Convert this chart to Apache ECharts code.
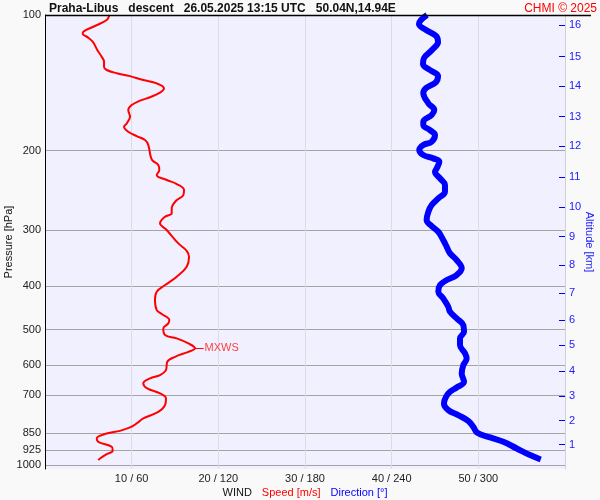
<!DOCTYPE html>
<html>
<head>
<meta charset="utf-8">
<script src="https://cdn.jsdelivr.net/npm/echarts@6/dist/echarts.min.js"></script>
<style>
html,body{margin:0;padding:0;background:#f9f9f9;}
#chart{width:600px;height:500px;}
</style>
</head>
<body>
<div id="chart"></div>
<script>
// ---- data ----
const pressureTicks = [100, 200, 300, 400, 500, 600, 700, 850, 925, 1000];
const altitudeKm = [1, 2, 3, 4, 5, 6, 7, 8, 9, 10, 11, 12, 13, 14, 15, 16];
const altitudePressure = [900.3, 796.4, 702.4, 618.1, 541.2, 476.1, 414.7, 359.4, 310.7, 267.1, 229.1, 195.5, 168.1, 143.8, 123.7, 105.25];
const speedTicks = [10, 20, 30, 40, 50];

const speedPressure = [100, 102.6, 106.2, 108.9, 110.2, 111.7, 114.6, 119.6, 123.8, 127.0, 130.3, 132.5, 134.7, 136.7, 139.5, 141.9, 145.5, 148.8, 152.3, 155.0, 158.5, 162.6, 168.3, 174.1, 177.1, 181.7, 185.8, 189.6, 194.5, 206.5, 210.8, 215.4, 221.0, 226.7, 232.6, 237.4, 244.8, 251.2, 258.6, 268.9, 275.8, 280.6, 290.3, 300.4, 321.7, 334.1, 344.5, 362.5, 381.5, 398.1, 412.0, 429.9, 452.4, 461.7, 476.1, 484.3, 496.9, 514.2, 523.0, 536.6, 550.0, 560.1, 574.6, 589.5, 615.0, 631.0, 641.7, 658.3, 675.4, 693.0, 711.0, 735.8, 761.5, 787.6, 808.0, 824.7, 839.2, 850.4, 872.4, 887.7, 910.7, 929.5, 945.4, 966.5, 974.8];
const speedValues = [7.42, 7.12, 5.57, 4.42, 4.35, 4.81, 5.50, 6.03, 6.54, 6.81, 6.81, 7.12, 8.27, 9.81, 11.34, 12.89, 13.73, 13.27, 12.12, 10.96, 10.0, 9.61, 9.81, 9.43, 9.12, 9.61, 10.58, 11.54, 11.92, 12.20, 12.43, 13.07, 13.19, 12.89, 14.04, 15.2, 16.04, 15.96, 15.12, 14.62, 14.62, 13.85, 13.27, 14.04, 15.38, 16.35, 16.62, 16.35, 15.2, 13.85, 12.89, 12.69, 12.89, 13.47, 14.34, 14.23, 13.65, 13.85, 15.2, 16.54, 17.3, 16.54, 15.0, 14.11, 13.96, 13.27, 12.12, 11.34, 11.8, 13.27, 13.96, 13.85, 13.07, 11.34, 10.58, 9.81, 8.65, 7.12, 5.97, 6.15, 7.7, 7.81, 7.12, 6.35, 6.15];

const dirPressure = [100, 102.6, 104.7, 108.0, 111.3, 114.8, 119.6, 124.6, 128.5, 132.5, 136.7, 140.9, 145.3, 149.1, 157.1, 162.6, 166.8, 172.6, 175.6, 180.2, 184.8, 191.2, 194.5, 199.5, 204.7, 208.2, 211.8, 219.1, 222.9, 230.7, 238.6, 247.0, 255.5, 264.4, 273.6, 285.4, 294.3, 303.1, 316.2, 327.3, 338.5, 350.3, 365.5, 378.2, 388.0, 398.1, 412.0, 426.2, 444.8, 456.4, 472.1, 488.6, 505.6, 523.0, 541.2, 564.8, 579.4, 599.6, 625.6, 653.1, 672.1, 687.4, 705.1, 729.4, 754.8, 774.4, 797.4, 822.3, 847.6, 867.8, 887.7, 918.2, 949.9, 971.3];
const dirValues = [264.5, 260.3, 258.9, 263.8, 270.7, 272.1, 267.9, 262.4, 261.7, 266.5, 272.1, 270.7, 263.8, 261.9, 265.4, 269.5, 267.7, 261.9, 261.9, 266.5, 270.0, 267.7, 261.9, 259.1, 261.9, 268.8, 273.0, 271.2, 270.0, 273.5, 276.9, 276.9, 272.3, 267.7, 265.4, 264.2, 267.7, 272.3, 275.7, 278.1, 280.4, 285.0, 288.5, 285.0, 278.1, 273.5, 272.3, 275.7, 279.2, 280.4, 285.0, 289.6, 290.1, 287.3, 287.3, 290.8, 291.9, 289.6, 288.5, 290.1, 285.0, 280.4, 277.6, 276.2, 279.2, 286.1, 293.0, 296.5, 299.3, 308.1, 317.3, 326.6, 335.8, 343.2];

const mxwsPressure = 550;
const mxwsSpeed = 17.3;

const titleText = 'Praha-Libus   descent   26.05.2025 13:15 UTC   50.04N,14.94E';
const copyrightText = 'CHMI \u00a9 2025';

// ---- chart ----
const FONT = '"Liberation Sans", Arial, sans-serif';
const chart = echarts.init(document.getElementById('chart'));
const speedData = speedValues.map((s, i) => [s, speedPressure[i]]);
const dirData = dirValues.map((d, i) => [d, dirPressure[i]]);

chart.setOption({
  backgroundColor: '#f9f9f9',
  animation: false,
  textStyle: { fontFamily: FONT },
  title: [
    { text: titleText, left: 49, top: 3, padding: 0, textStyle: { fontSize: 12, fontWeight: 'bold', color: '#111', fontFamily: FONT } },
    { text: copyrightText, right: 3, top: 3, padding: 0, textStyle: { fontSize: 12, fontWeight: 'normal', color: '#ff0000', fontFamily: FONT } }
  ],
  graphic: [
    { type: 'line', shape: { x1: 45, y1: 15.5, x2: 591, y2: 15.5 }, style: { stroke: '#000', lineWidth: 1.5 }, z: 100 }
  ],
  grid: { left: 45, right: 35, top: 15, bottom: 31, show: true, backgroundColor: '#f0f0ff', borderWidth: 0, containLabel: false, outerBoundsMode: 'none' },
  xAxis: [
    {
      type: 'value', min: 0, max: 60, interval: 10, position: 'bottom',
      axisLine: { show: false }, axisTick: { show: false },
      axisLabel: {
        margin: 4, fontSize: 11, color: '#222', fontFamily: FONT,
        formatter: v => speedTicks.indexOf(v) >= 0 ? (v + ' / ' + v * 6) : ''
      },
      splitLine: { show: true, lineStyle: { color: '#dcdce6', width: 1 } },
      name: '{a|WIND}   {b|Speed [m/s]}   {c|Direction [\u00b0]}',
      nameLocation: 'middle', nameGap: 18, nameMoveOverlap: false,
      nameTextStyle: {
        rich: {
          a: { color: '#111', fontSize: 11, fontFamily: FONT },
          b: { color: '#ff0000', fontSize: 11, fontFamily: FONT },
          c: { color: '#0000ff', fontSize: 11, fontFamily: FONT }
        }
      }
    },
    { type: 'value', min: 0, max: 360, show: false }
  ],
  yAxis: [
    {
      type: 'log', logBase: 10, min: 100, max: 1020, inverse: true, position: 'left',
      axisLine: { show: true, lineStyle: { color: '#000', width: 1 } },
      axisTick: { show: false, customValues: pressureTicks },
      axisLabel: { customValues: pressureTicks, margin: 4, fontSize: 11, color: '#222', fontFamily: FONT, formatter: v => String(Math.round(v)) },
      splitLine: { show: true, lineStyle: { color: '#a4a4a4', width: 1 } },
      name: 'Pressure [hPa]', nameLocation: 'middle', nameGap: 31, nameMoveOverlap: false,
      nameTextStyle: { fontSize: 11, color: '#111', fontFamily: FONT }
    },
    {
      type: 'log', logBase: 10, min: 100, max: 1020, inverse: true, position: 'right',
      axisLine: { show: true, onZero: false, lineStyle: { color: '#d0d0d8', width: 1 } },
      axisTick: { show: true, inside: true, length: 6, customValues: altitudePressure, lineStyle: { color: '#0000ff', width: 1 } },
      axisLabel: {
        customValues: altitudePressure, margin: 4, fontSize: 11, color: '#2020ff', fontFamily: FONT,
        formatter: v => {
          let best = 0, bd = 1e9;
          altitudePressure.forEach((p, i) => { const d = Math.abs(p - v); if (d < bd) { bd = d; best = i; } });
          return String(altitudeKm[best]);
        }
      },
      splitLine: { show: false },
      name: 'Altitude [km]', nameLocation: 'middle', nameGap: 19, nameRotate: -90, nameMoveOverlap: false,
      nameTextStyle: { fontSize: 11, color: '#2020ff', fontFamily: FONT }
    }
  ],
  series: [
    {
      name: 'Direction', type: 'line', xAxisIndex: 1, yAxisIndex: 0,
      data: dirData, showSymbol: false, symbol: 'none', smooth: 0.4,
      lineStyle: { color: '#0000ff', width: 6 }, z: 3
    },
    {
      name: 'Speed', type: 'line', xAxisIndex: 0, yAxisIndex: 0,
      data: speedData, showSymbol: false, symbol: 'none', smooth: 0.4,
      lineStyle: { color: '#ff0000', width: 2 }, z: 4,
      markLine: {
        silent: true, symbol: 'none', animation: false,
        lineStyle: { color: '#ff0000', width: 1, type: 'solid' },
        data: [
          [{ coord: [-0.25, mxwsPressure] }, { coord: [1.3, mxwsPressure], label: { show: false } }],
          [{ coord: [58.6, mxwsPressure] }, { coord: [60.2, mxwsPressure], label: { show: false } }],
          [{ coord: [mxwsSpeed, mxwsPressure] }, { coord: [mxwsSpeed + 1.0, mxwsPressure], label: { show: true, position: 'end', formatter: 'MXWS', color: '#ff4040', fontSize: 11, fontFamily: FONT, distance: 1 } }]
        ]
      }
    }
  ]
});
</script>
</body>
</html>
